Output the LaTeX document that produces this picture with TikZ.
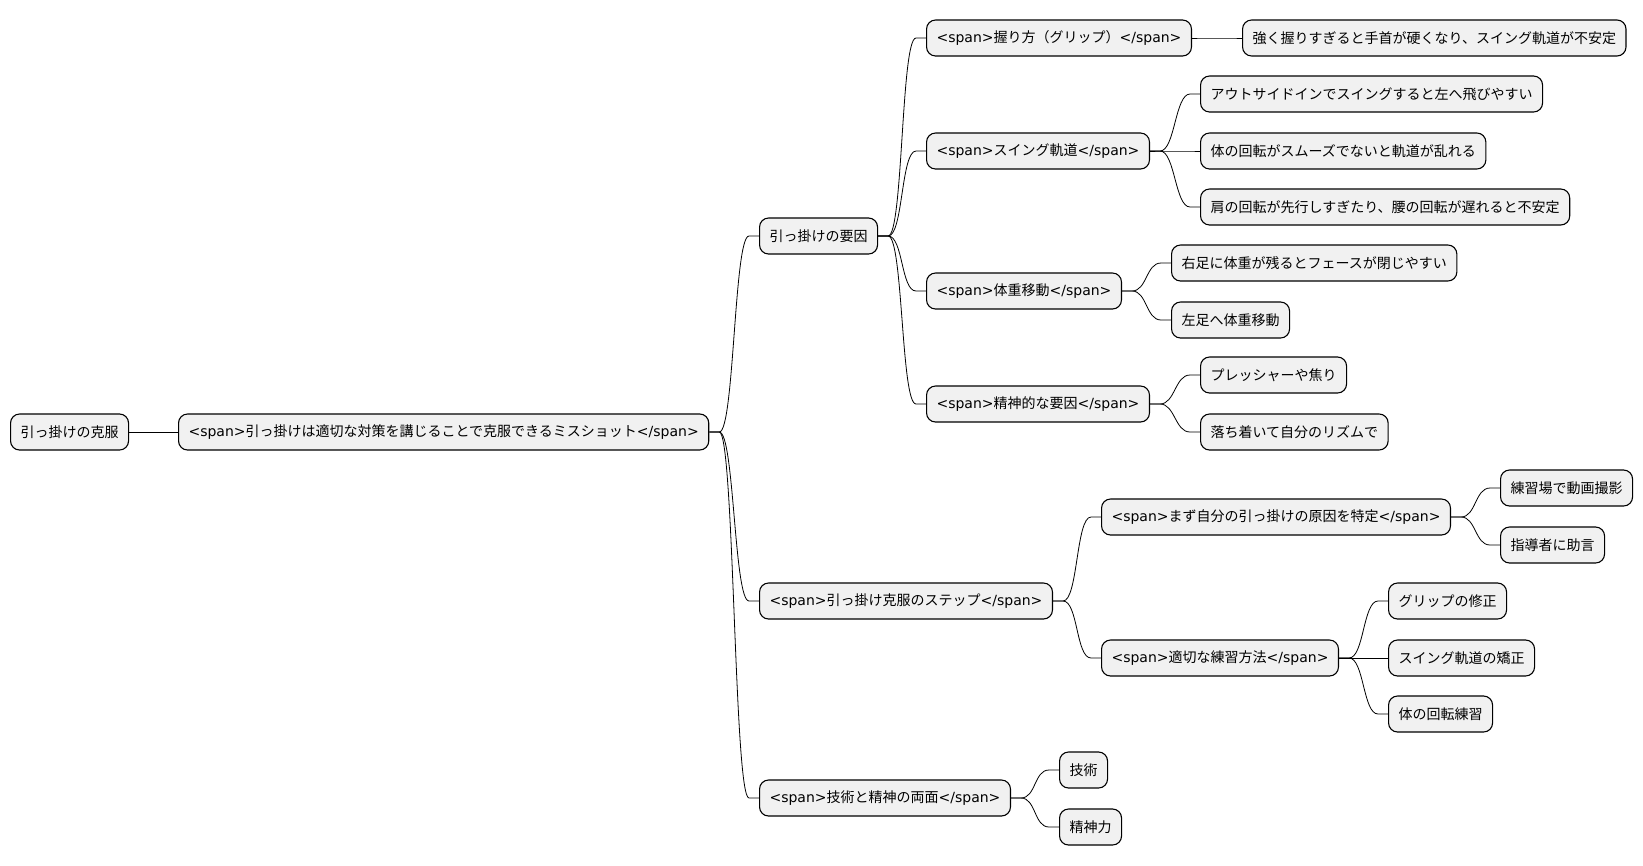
\documentclass[tikz,border=0pt]{standalone}
\usepackage{fontspec}
\setmainfont{Noto Sans CJK JP}
\newfontfamily\lat{DejaVu Sans}
\usepackage{tikz}
\usepackage{xcolor}

\definecolor{boxfill}{HTML}{F1F1F1}
\newcommand\spn[1]{{\lat<span>}#1{\lat</span>}}
\newcommand\link[2]{\draw[edge] (#1.east) -- ++(10,0) .. controls +(15,0) and +(-15,0) .. ([xshift=-10pt]#2.west) -- (#2.west);}

\begin{document}
\begin{tikzpicture}[
        x=1pt, y=-1pt,
        topic/.style={draw=black, line width=1.1pt, fill=boxfill, rounded corners=9pt,
            anchor=west, minimum height=36pt, inner xsep=10pt, inner ysep=0pt,
            font=\fontsize{14}{16}\selectfont},
        edge/.style={draw=black, line width=0.8pt}
    ]
        \useasboundingbox (0,0) rectangle (1643,865);

        \node[topic] (root) at (10,432) {引っ掛けの克服};
        \node[topic] (main) at (178,432) {\spn{引っ掛けは適切な対策を講じることで克服できるミスショット}};

        \node[topic] (cause) at (759,236) {引っ掛けの要因};
        \node[topic] (steps) at (759,601) {\spn{引っ掛け克服のステップ}};
        \node[topic] (both) at (759,798) {\spn{技術と精神の両面}};

        \node[topic] (grip) at (926,38) {\spn{握り方（グリップ）}};
        \node[topic] (swing) at (926,151) {\spn{スイング軌道}};
        \node[topic] (weight) at (926,291) {\spn{体重移動}};
        \node[topic] (mind) at (926,404) {\spn{精神的な要因}};

        \node[topic] (grip1) at (1242,38) {強く握りすぎると手首が硬くなり、スイング軌道が不安定};
        \node[topic] (swing1) at (1200,94) {アウトサイドインでスイングすると左へ飛びやすい};
        \node[topic] (swing2) at (1200,151) {体の回転がスムーズでないと軌道が乱れる};
        \node[topic] (swing3) at (1200,207) {肩の回転が先行しすぎたり、腰の回転が遅れると不安定};
        \node[topic] (weight1) at (1171,263) {右足に体重が残るとフェースが閉じやすい};
        \node[topic] (weight2) at (1171,320) {左足へ体重移動};
        \node[topic] (mind1) at (1200,375) {プレッシャーや焦り};
        \node[topic] (mind2) at (1200,432) {落ち着いて自分のリズムで};

        \node[topic] (find) at (1101,517) {\spn{まず自分の引っ掛けの原因を特定}};
        \node[topic] (find1) at (1500,488) {練習場で動画撮影};
        \node[topic] (find2) at (1500,545) {指導者に助言};
        \node[topic] (prac) at (1101,658) {\spn{適切な練習方法}};
        \node[topic] (prac1) at (1388,601) {グリップの修正};
        \node[topic] (prac2) at (1388,658) {スイング軌道の矯正};
        \node[topic] (prac3) at (1388,714) {体の回転練習};

        \node[topic] (both1) at (1059,770) {技術};
        \node[topic] (both2) at (1059,827) {精神力};

        \draw[edge] (root) -- (main);
        \foreach \c in {cause,steps,both} {\link{main}{\c}}
        \foreach \c in {grip,swing,weight,mind} {\link{cause}{\c}}
        \link{grip}{grip1}
        \foreach \c in {swing1,swing2,swing3} {\link{swing}{\c}}
        \foreach \c in {weight1,weight2} {\link{weight}{\c}}
        \foreach \c in {mind1,mind2} {\link{mind}{\c}}
        \foreach \c in {find,prac} {\link{steps}{\c}}
        \foreach \c in {find1,find2} {\link{find}{\c}}
        \foreach \c in {prac1,prac2,prac3} {\link{prac}{\c}}
        \foreach \c in {both1,both2} {\link{both}{\c}}
    \end{tikzpicture}
\end{document}
